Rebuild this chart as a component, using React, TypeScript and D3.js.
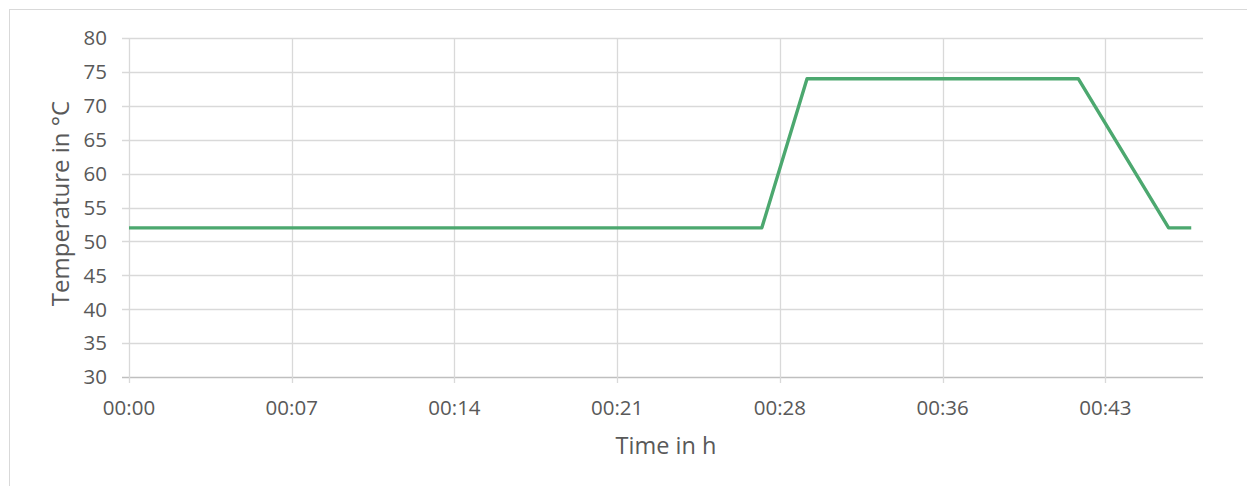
import React, { useEffect, useRef } from "react";
import * as d3 from "d3";

// time in minutes, temperature in °C
const times = [0, 28, 30, 42, 46, 47];
const temps = [52, 52, 74, 74, 52, 52];
// Excel ticks every 0.005 days = 7.2 min
const xTicks = [0, 7.2, 14.4, 21.6, 28.8, 36, 43.2];
const yTicks = [30, 35, 40, 45, 50, 55, 60, 65, 70, 75, 80];

const W = 1247;
const H = 486;
const margin = { top: 38, right: 44, bottom: 109, left: 129 };
const FONT = "'Open Sans', sans-serif";

export default function App() {
  const ref = useRef<SVGSVGElement>(null);

  useEffect(() => {
    const svg = d3.select(ref.current);
    svg.selectAll("*").remove();
    const width = W - margin.left - margin.right;
    const height = H - margin.top - margin.bottom;

    // chart border
    svg
      .append("rect")
      .attr("x", 9.5)
      .attr("y", 9.5)
      .attr("width", W)
      .attr("height", H)
      .attr("fill", "white")
      .attr("stroke", "#d9d9d9");

    const g = svg
      .append("g")
      .attr("transform", `translate(${margin.left},${margin.top})`);

    const x = d3.scaleLinear().domain([0, 47.52]).range([0, width]);
    const y = d3.scaleLinear().domain([30, 80]).range([height, 0]);

    // horizontal grid
    g.append("g")
      .selectAll("line")
      .data(yTicks)
      .enter()
      .append("line")
      .attr("x1", -7)
      .attr("x2", width)
      .attr("y1", d => Math.round(y(d)) + 0.5)
      .attr("y2", d => Math.round(y(d)) + 0.5)
      .attr("stroke", d => (d === 30 ? "#bfbfbf" : "#d9d9d9"))
      .attr("stroke-width", 1.3);

    // vertical grid
    g.append("g")
      .selectAll("line")
      .data(xTicks)
      .enter()
      .append("line")
      .attr("x1", d => Math.round(x(d)) + 0.5)
      .attr("x2", d => Math.round(x(d)) + 0.5)
      .attr("y1", 0)
      .attr("y2", height + 6)
      .attr("stroke", "#d9d9d9")
      .attr("stroke-width", 1.3);

    // y labels
    g.append("g")
      .selectAll("text")
      .data(yTicks)
      .enter()
      .append("text")
      .attr("x", -22)
      .attr("y", d => y(d))
      .attr("dy", "0.36em")
      .attr("text-anchor", "end")
      .attr("font-family", FONT)
      .attr("font-size", 20.5)
      .attr("fill", "#595959")
      .text(d => d);

    // x labels
    g.append("g")
      .selectAll("text")
      .data(xTicks)
      .enter()
      .append("text")
      .attr("x", d => x(d))
      .attr("y", height + 38)
      .attr("text-anchor", "middle")
      .attr("font-family", FONT)
      .attr("font-size", 20.5)
      .attr("fill", "#595959")
      .text(d => "00:" + String(Math.floor(d)).padStart(2, "0"));

    // axis titles
    g.append("text")
      .attr("x", width / 2)
      .attr("y", height + 77)
      .attr("text-anchor", "middle")
      .attr("font-family", FONT)
      .attr("font-size", 23.5)
      .attr("fill", "#595959")
      .text("Time in h");

    g.append("text")
      .attr("transform", `translate(-60,${height / 2 - 4}) rotate(-90)`)
      .attr("text-anchor", "middle")
      .attr("font-family", FONT)
      .attr("font-size", 24)
      .attr("fill", "#595959")
      .text("Temperature in °C");

    const line = d3
      .line<number>()
      .x((d, i) => x(times[i]))
      .y(d => y(d));

    g.append("path")
      .datum(temps)
      .attr("d", line)
      .attr("fill", "none")
      .attr("stroke", "#4ca86f")
      .attr("stroke-width", 3.4)
      .attr("stroke-linejoin", "round");
  }, []);

  return (
    <svg
      ref={ref}
      width={W}
      height={H}
      style={{ position: "absolute", left: 0, top: 0, display: "block" }}
    />
  );
}
